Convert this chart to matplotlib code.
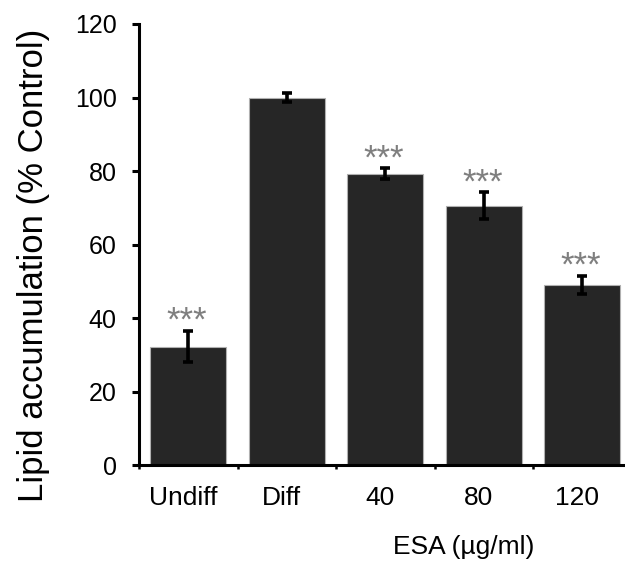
import numpy as np
import matplotlib
matplotlib.use('Agg')
import matplotlib.pyplot as plt
import matplotlib.transforms as mtransforms

plt.rcParams['font.family'] = ['Liberation Sans', 'DejaVu Sans']

# данные
groups = ['Undiff', 'Diff', '40', '80', '120']
lipid = [32.2, 100.0, 79.3, 70.6, 49.0]
lipid_err = [4.3, 1.1, 1.4, 3.6, 2.5]
signif = ['***', '', '***', '***', '***']

fig = plt.figure(figsize=(6.25, 5.66), dpi=100)
ax = fig.add_axes([0.2224, 0.1784, 0.7883, 0.7792])

x = np.arange(len(groups))
ax.bar(x, lipid, width=0.77, color='#262626', edgecolor='#b0b0b0', linewidth=0.8, zorder=2)
ax.errorbar(x, lipid, yerr=lipid_err, fmt='none', ecolor='black',
            elinewidth=2.6, capsize=3.4, capthick=2.6, zorder=3)

# звёздочки над столбцами
for xi, val, err, mark in zip(x, lipid, lipid_err, signif):
    if mark:
        ax.annotate(mark, (xi, val + err), xytext=(-1, 0), textcoords='offset points',
                    ha='center', va='baseline', fontsize=25, color='#7f7f7f')

ax.set_xlim(-0.5, len(groups) - 0.5)
ax.set_ylim(0, 120)
ax.set_yticks(np.arange(0, 121, 20))
ax.set_xticks(np.arange(len(groups) + 1) - 0.5)
ax.set_xticklabels([])
ax.set_xticks(x, minor=True)
ax.set_xticklabels(groups, minor=True)

ax.spines['top'].set_visible(False)
ax.spines['right'].set_visible(False)
ax.spines['left'].set_linewidth(2.2)
ax.spines['bottom'].set_linewidth(2.2)
ax.tick_params(axis='y', direction='out', length=5, width=2.2, labelsize=18, pad=11)
ax.tick_params(axis='x', which='major', direction='out', length=3, width=1.8)
ax.tick_params(axis='x', which='minor', length=0, labelsize=19, pad=15)

shift = mtransforms.ScaledTranslation(-5 / 100, 0, fig.dpi_scale_trans)
for lab in ax.get_xticklabels(minor=True):
    lab.set_transform(lab.get_transform() + shift)

fig.text(42.7 / 625, 1 - 265 / 566, 'Lipid accumulation (% Control)', rotation=90,
         rotation_mode='anchor', ha='center', va='baseline', fontsize=25)
fig.text(464 / 625, 1 - 547 / 566, 'ESA (µg/ml)', ha='center', va='center', fontsize=19)

plt.savefig('out.png', dpi=100)
